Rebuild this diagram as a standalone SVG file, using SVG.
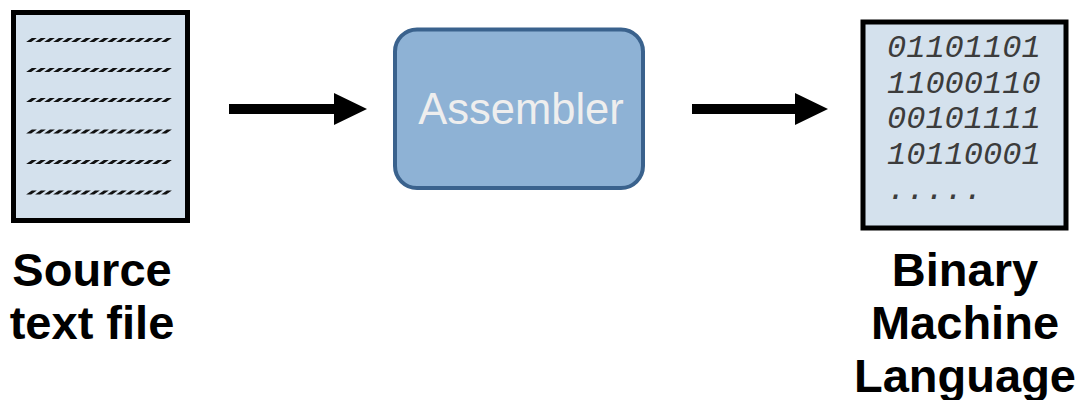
<svg xmlns="http://www.w3.org/2000/svg" width="1082" height="400" viewBox="0 0 1082 400">
  <style>
    .doc { fill: #d4e1ed; stroke: #000; stroke-width: 5; }
    .dash { stroke: #111; stroke-width: 4; stroke-dasharray: 5 4; fill: none; }
    .label { font-family: "Liberation Sans", Arial, sans-serif; font-weight: bold; font-size: 47px; fill: #000; text-anchor: middle; }
    .bin { font-family: "Liberation Mono", "Courier New", monospace; font-style: italic; font-size: 32px; fill: #3c3c3c; }
    .arrow { fill: #000; }
  </style>
  <rect width="1082" height="400" fill="#fff"/>

  <g id="source">
    <rect class="doc" x="13.5" y="12.5" width="174" height="208"/>
    <line class="dash" x1="0" y1="0" x2="144" y2="0" transform="translate(29,40) skewX(-55)"/>
    <line class="dash" x1="0" y1="0" x2="144" y2="0" transform="translate(29,70) skewX(-55)"/>
    <line class="dash" x1="0" y1="0" x2="144" y2="0" transform="translate(29,100) skewX(-55)"/>
    <line class="dash" x1="0" y1="0" x2="144" y2="0" transform="translate(29,131.5) skewX(-55)"/>
    <line class="dash" x1="0" y1="0" x2="144" y2="0" transform="translate(29,162) skewX(-55)"/>
    <line class="dash" x1="0" y1="0" x2="144" y2="0" transform="translate(29,192.5) skewX(-55)"/>
    <text class="label" x="92" y="286">Source</text>
    <text class="label" x="92" y="339">text file</text>
  </g>

  <g id="assembler">
    <rect x="395" y="29.5" width="248" height="158.5" rx="22" ry="22" fill="#8eb2d5" stroke="#3a628d" stroke-width="4"/>
    <text x="521" y="124" font-family="'Liberation Sans', Arial, sans-serif" font-size="43.5" fill="#eeeeee" text-anchor="middle">Assembler</text>
  </g>

  <g id="binary">
    <rect class="doc" x="863" y="22" width="203" height="206" stroke-width="4.5"/>
    <text class="bin" x="887" y="57">01101101</text>
    <text class="bin" x="887" y="92.5">11000110</text>
    <text class="bin" x="887" y="128">00101111</text>
    <text class="bin" x="887" y="163.5">10110001</text>
    <text class="bin" x="887" y="199">.....</text>
    <text class="label" x="965" y="286">Binary</text>
    <text class="label" x="965" y="339">Machine</text>
    <text class="label" x="965" y="392">Language</text>
  </g>

  <g id="connectors">
    <path class="arrow" d="M229,104 H334 V93 L367,109 L334,125 V114 H229 Z"/>
    <path class="arrow" d="M692,104 H795 V93 L828,109 L795,125 V114 H692 Z"/>
  </g>
</svg>
